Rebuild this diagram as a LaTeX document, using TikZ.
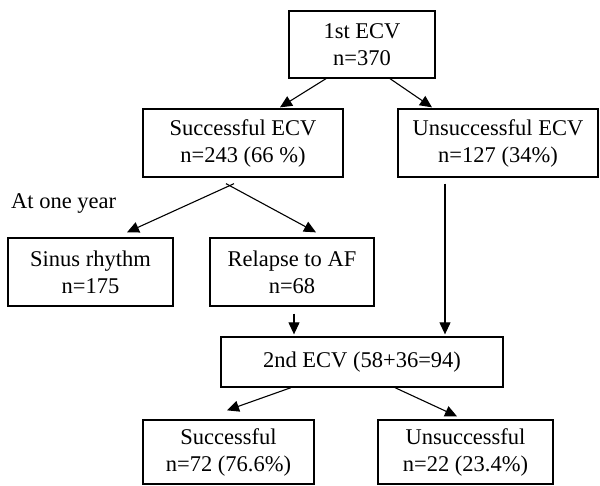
\documentclass[tikz,border=0pt]{standalone}
\usepackage{fontspec}
\setmainfont{Liberation Serif}
\usetikzlibrary{arrows.meta}
\tikzset{
  box/.style={draw, line width=1.3pt, inner sep=0pt, align=center,
    font=\fontsize{22.5}{27}\selectfont},
  arr/.style={line width=1.1pt, -{Triangle[length=12pt,width=11pt]}},
  lbl/.style={font=\fontsize{22.5}{27}\selectfont, inner sep=0pt}
}
\begin{document}
\begin{tikzpicture}[x=1pt,y=-1pt]
\useasboundingbox (0,0) rectangle (600,485);
\node[box, minimum width=146pt, minimum height=67pt] (n1) at (362,44.5) {1st ECV\\n=370};
\node[box, minimum width=200pt, minimum height=68pt] (n2) at (243,143) {Successful ECV\\n=243 (66 \%)};
\node[box, minimum width=200pt, minimum height=68pt] (n3) at (498,143) {Unsuccessful ECV\\n=127 (34\%)};
\node[box, minimum width=165pt, minimum height=68pt] (n4) at (90.5,272) {Sinus rhythm\\n=175};
\node[box, minimum width=164pt, minimum height=68pt] (n5) at (292,272) {Relapse to AF\\n=68};
\node[box, minimum width=282pt, minimum height=50pt] (n6) at (362,362) {2nd ECV (58+36=94)};
\node[box, minimum width=171pt, minimum height=64pt] (n7) at (228.5,452) {Successful\\n=72 (76.6\%)};
\node[box, minimum width=175pt, minimum height=64pt] (n8) at (465.5,452) {Unsuccessful\\n=22 (23.4\%)};
\node[lbl, anchor=west] (oneyear) at (11,203) {At one year};
% arrows
\draw[arr] ([xshift=-36pt]n1.south) -- ([xshift=37pt,yshift=1pt]n2.north);
\draw[arr] ([xshift=28pt]n1.south) -- ([xshift=-66pt,yshift=1pt]n3.north);
\draw[arr] ([xshift=-9pt,yshift=-6pt]n2.south) -- ([xshift=36.5pt,yshift=5pt]n4.north);
\draw[arr] ([xshift=-17pt,yshift=-6pt]n2.south) -- ([xshift=24pt,yshift=5pt]n5.north);
\draw[arr] ([xshift=2pt,yshift=-7pt]n5.south) -- ([xshift=-68pt,yshift=2pt]n6.north);
\draw[arr] ([xshift=-53pt,yshift=-6pt]n3.south) -- ([xshift=83pt,yshift=2pt]n6.north);
\draw[arr] ([xshift=-71pt]n6.south) -- ([xshift=-1.5pt,yshift=9pt]n7.north);
\draw[arr] ([xshift=33pt]n6.south) -- ([xshift=-8.5pt,yshift=3pt]n8.north);
\end{tikzpicture}
\end{document}
